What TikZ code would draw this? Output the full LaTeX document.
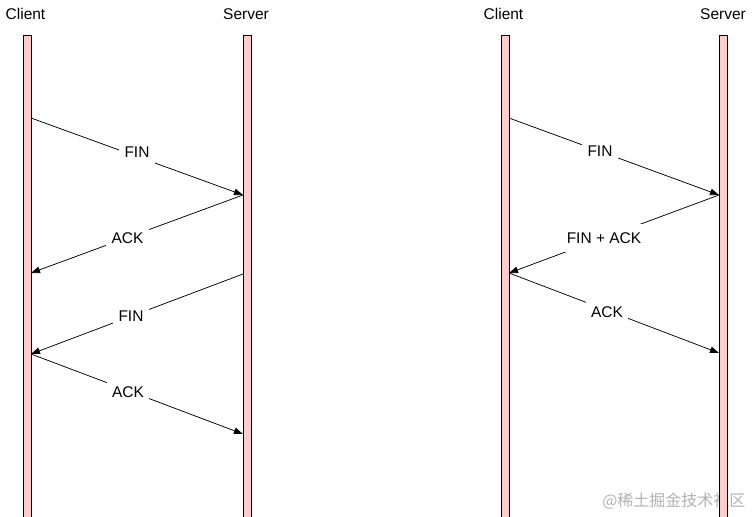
\documentclass[tikz,border=0pt]{standalone}
\usepackage{fontspec}
\setmainfont{Liberation Sans}
\newfontfamily\cjk{Noto Sans CJK SC}
\usetikzlibrary{arrows.meta}
\definecolor{barpink}{RGB}{255,204,204}
\tikzset{
  lifebar/.style={draw=black, fill=barpink, line width=0.8pt},
  msg/.style={draw=black, line width=0.75pt, -{Triangle[length=9pt,width=6.5pt]}},
  lbl/.style={fill=white, font=\fontsize{15.5}{18}\selectfont, inner xsep=5.5pt, inner ysep=0pt, minimum height=28pt},
  head/.style={font=\fontsize{15.5}{18}\selectfont}
}
\begin{document}
\begin{tikzpicture}[x=1pt,y=-1pt]
\useasboundingbox (0,0) rectangle (753,517);
% watermark (under the lifelines)
\node[font=\cjk\fontsize{16}{18}\selectfont, text=black!30, anchor=east] (wm) at (749,501) {@稀土掘金技术社区};
% lifelines
\draw[lifebar] (23,35) rectangle (31,520);
\draw[lifebar] (243,35) rectangle (251,520);
\draw[lifebar] (501,35) rectangle (509,520);
\draw[lifebar] (719,35) rectangle (727,520);
% headers
\node[head] (h1) at (25.5,14) {Client};
\node[head] (h2) at (246,14) {Server};
\node[head] (h3) at (503.5,14) {Client};
\node[head] (h4) at (723,14) {Server};
% left diagram points
\coordinate (c1) at (31,118);
\coordinate (s1) at (243,195);
\coordinate (c2) at (31,273);
\coordinate (s2) at (243,274);
\coordinate (c3) at (31,354);
\coordinate (s3) at (243,434);
\draw[msg] (c1) -- (s1);
\draw[msg] (s1) -- (c2);
\draw[msg] (s2) -- (c3);
\draw[msg] (c3) -- (s3);
\node[lbl] (l1) at (137,152) {FIN};
\node[lbl] (l2) at (127.5,238) {ACK};
\node[lbl] (l3) at (131,316) {FIN};
\node[lbl] (l4) at (128,392) {ACK};
% right diagram points
\coordinate (rc1) at (509,118);
\coordinate (rs1) at (719,195);
\coordinate (rc2) at (509,273);
\coordinate (rs2) at (719,353);
\draw[msg] (rc1) -- (rs1);
\draw[msg] (rs1) -- (rc2);
\draw[msg] (rc2) -- (rs2);
\node[lbl] (r1) at (600,151) {FIN};
\node[lbl] (r2) at (604,238) {FIN + ACK};
\node[lbl] (r3) at (607,312) {ACK};
\end{tikzpicture}
\end{document}
